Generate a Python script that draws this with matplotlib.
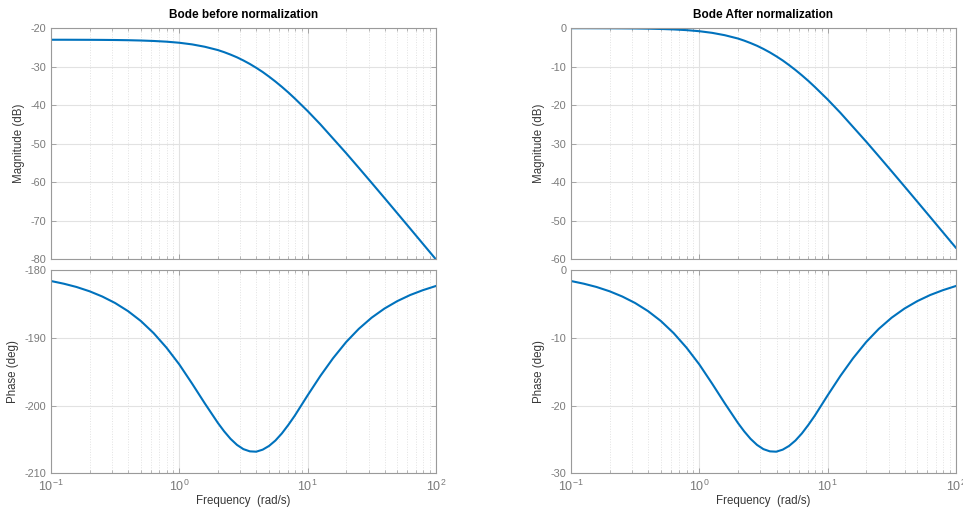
import matplotlib
matplotlib.use("Agg")
import matplotlib.pyplot as plt
from matplotlib.ticker import LogLocator, NullFormatter

# Frequenzpunkte (rad/s)
freq = [0.1, 0.126, 0.158, 0.2, 0.251, 0.316, 0.398, 0.501, 0.631, 0.794,
        1.0, 1.26, 1.58, 2.0, 2.24, 2.51, 2.82, 3.16, 3.55, 3.98, 4.47, 5.01,
        5.62, 6.31, 7.08, 7.94, 10.0, 12.6, 15.8, 20.0, 25.1, 31.6, 39.8,
        50.1, 63.1, 79.4, 100.0]

# Betrag (dB) vor der Normierung
mag_before = [-23.01, -23.01, -23.02, -23.03, -23.05, -23.08, -23.13, -23.21,
              -23.33, -23.51, -23.79, -24.22, -24.83, -25.69, -26.24, -26.87,
              -27.58, -28.39, -29.3, -30.3, -31.39, -32.59, -33.87, -35.25,
              -36.7, -38.24, -41.5, -45.0, -48.66, -52.47, -56.28, -60.18,
              -64.12, -68.08, -72.06, -76.04, -80.03]

# Phase (deg) vor der Normierung
phase_before = [-181.58, -181.98, -182.46, -183.1, -183.87, -184.83, -186.02,
                -187.48, -189.28, -191.42, -193.9, -196.75, -199.65, -202.55,
                -203.8, -204.9, -205.8, -206.42, -206.75, -206.8, -206.5,
                -205.95, -205.15, -204.1, -202.85, -201.5, -198.5, -195.6,
                -193.0, -190.6, -188.65, -187.0, -185.65, -184.55, -183.65,
                -182.93, -182.32]

# Betrag (dB) nach der Normierung
mag_after = [-0.01, -0.01, -0.02, -0.03, -0.05, -0.08, -0.13, -0.21, -0.33,
             -0.51, -0.79, -1.22, -1.83, -2.69, -3.24, -3.87, -4.58, -5.39,
             -6.3, -7.3, -8.39, -9.59, -10.87, -12.25, -13.7, -15.24, -18.5,
             -22.0, -25.66, -29.47, -33.28, -37.18, -41.12, -45.08, -49.06,
             -53.04, -57.03]

# Phase (deg) nach der Normierung
phase_after = [-1.58, -1.98, -2.46, -3.1, -3.87, -4.83, -6.02, -7.48, -9.28,
               -11.42, -13.9, -16.75, -19.65, -22.55, -23.8, -24.9, -25.8,
               -26.42, -26.75, -26.8, -26.5, -25.95, -25.15, -24.1, -22.85,
               -21.5, -18.5, -15.6, -13.0, -10.6, -8.65, -7.0, -5.65, -4.55,
               -3.65, -2.93, -2.32]

plt.rcParams['font.family'] = ['Liberation Sans', 'DejaVu Sans']
plt.rcParams['mathtext.fontset'] = 'custom'
plt.rcParams['mathtext.rm'] = 'Liberation Sans'
plt.rcParams['mathtext.it'] = 'Liberation Sans:italic'
plt.rcParams['axes.unicode_minus'] = False

LINE_COLOR = '#0072BD'
TICK_COLOR = '#7a7a7a'
EDGE_COLOR = '#9a9a9a'
LABEL_COLOR = '#383838'


def style_axes(ax, ylim, yticks, show_xlabels):
    ax.set_xscale('log')
    ax.set_xlim(0.1, 100)
    ax.set_ylim(*ylim)
    ax.set_yticks(yticks)
    ax.xaxis.set_minor_locator(LogLocator(base=10, subs=range(2, 10)))
    ax.xaxis.set_minor_formatter(NullFormatter())
    ax.grid(which='major', color='#e2e2e2', linewidth=0.8)
    ax.grid(which='minor', axis='x', color='#e2e2e2', linewidth=0.7, linestyle=':')
    ax.set_axisbelow(True)
    ax.tick_params(which='both', direction='in', top=True, right=True,
                   colors=EDGE_COLOR, labelcolor=TICK_COLOR)
    ax.tick_params(axis='y', labelsize=7.8)
    ax.tick_params(axis='x', labelsize=9, pad=4)
    ax.tick_params(which='major', length=3.5, width=0.6)
    ax.tick_params(which='minor', length=2, width=0.5)
    for sp in ax.spines.values():
        sp.set_color(EDGE_COLOR)
        sp.set_linewidth(0.8)
    if not show_xlabels:
        ax.tick_params(labelbottom=False)


fig = plt.figure(figsize=(9.63, 5.12), dpi=100)

panels = [
    (0.053, "Bode before normalization", mag_before, phase_before,
     (-80, -20), range(-80, -19, 10), (-210, -180), range(-210, -179, 10)),
    (0.593, "Bode After normalization", mag_after, phase_after,
     (-60, 0), range(-60, 1, 10), (-30, 0), range(-30, 1, 10)),
]

for left, title, mag, phase, mlim, mticks, plim, pticks in panels:
    ax_mag = fig.add_axes([left, 0.494, 0.3995, 0.451])
    ax_ph = fig.add_axes([left, 0.0755, 0.3995, 0.3965])

    ax_mag.plot(freq, mag, color=LINE_COLOR, linewidth=1.5)
    ax_ph.plot(freq, phase, color=LINE_COLOR, linewidth=1.5)

    style_axes(ax_mag, mlim, mticks, show_xlabels=False)
    style_axes(ax_ph, plim, pticks, show_xlabels=True)

    ax_mag.set_title(title, fontsize=8.5, fontweight='bold', pad=7)
    ax_mag.set_ylabel("Magnitude (dB)", fontsize=8.3, color=LABEL_COLOR)
    ax_ph.set_ylabel("Phase (deg)", fontsize=8.3, color=LABEL_COLOR)
    ax_ph.set_xlabel("Frequency  (rad/s)", fontsize=8.3, color=LABEL_COLOR, labelpad=1)

fig.savefig("out.png", dpi=100)
